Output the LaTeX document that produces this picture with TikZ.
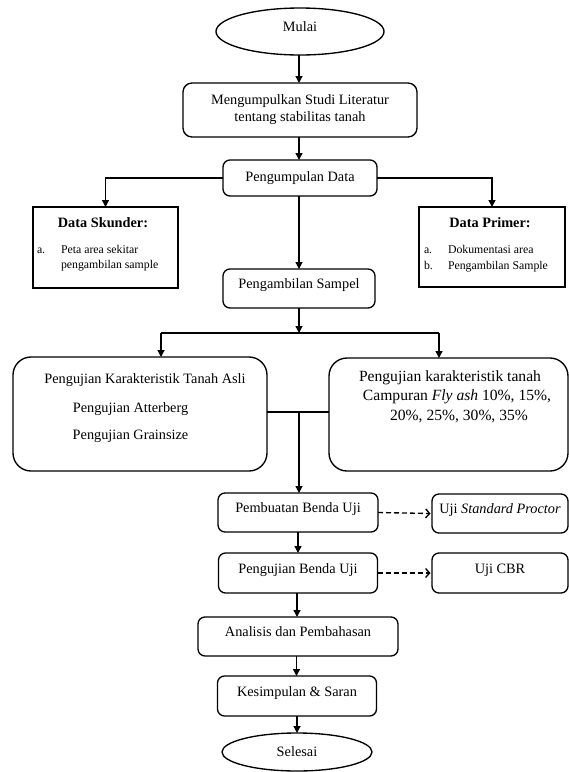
\documentclass[tikz,border=0pt]{standalone}
\usepackage{fontspec}
\setmainfont{Liberation Serif}
\usetikzlibrary{arrows.meta,shapes.geometric}
\begin{document}
\begin{tikzpicture}[x=1pt,y=-1pt,
  every node/.style={inner sep=0pt, outer sep=0pt},
  base/.style={font=\fontsize{14.3}{17}\selectfont},
  rbox/.style={draw, line width=1.35pt, rounded corners=7pt, base, align=center},
  bigbox/.style={draw, line width=1.35pt, rounded corners=18pt},
  sbox/.style={draw, line width=1.35pt},
  oval/.style={draw, ellipse, line width=1.35pt, base},
  up/.style={text height=0.7em, text depth=0.7em},
  arr/.style={line width=1.35pt, -{Triangle[length=7pt,width=7pt]}},
  ln/.style={line width=1.35pt},
  darr/.style={line width=1.35pt, dash pattern=on 5pt off 3pt, -{Straight Barb[length=4pt,width=9pt]}},
  small/.style={font=\fontsize{11.8}{15}\selectfont, anchor=base west},
  ttl/.style={font=\fontsize{14.3}{17}\selectfont\bfseries},
  txt/.style={base, text height=0.7em, text depth=0.22em},
  txtb/.style={font=\fontsize{15.6}{19.5}\selectfont, text height=0.7em, text depth=0.22em},
]
\useasboundingbox (0,0) rectangle (569,772);

% main column
\node[oval, up, minimum width=168pt, minimum height=47pt] (mulai) at (300,31.5) {Mulai};
\node[rbox, rounded corners=9pt, minimum width=234pt, minimum height=54pt] (studi) at (300,110)
  {Mengumpulkan Studi Literatur\\tentang stabilitas tanah};
\node[rbox, minimum width=154pt, minimum height=36pt] (kumpul) at (300,178) {Pengumpulan Data};
\node[rbox, up, minimum width=152pt, minimum height=39pt] (sampel) at (299,288.5) {Pengambilan Sampel};

% data boxes
\node[sbox, minimum width=145pt, minimum height=81pt] (skunder) at (105.5,247.5) {};
\node[ttl] (skt) at (103,223) {Data Skunder:};
\node[small] (ska) at (37,253) {a.};
\node[small] (sk1) at (61,253) {Peta area sekitar};
\node[small] (sk2) at (61,268) {pengambilan sample};

\node[sbox, minimum width=146pt, minimum height=80pt] (primer) at (492,247) {};
\node[ttl] (prt) at (490,223) {Data Primer:};
\node[small] (pra) at (424,253) {a.};
\node[small] (prb) at (424,269) {b.};
\node[small] (pr1) at (448,253) {Dokumentasi area};
\node[small] (pr2) at (448,269) {Pengambilan Sample};

% big boxes
\node[bigbox, minimum width=254pt, minimum height=114pt] (asli) at (140,414) {};
\node[txt] (a1) at (145,381) {Pengujian Karakteristik Tanah Asli};
\node[txt] (a2) at (130.5,410) {Pengujian Atterberg};
\node[txt] (a3) at (130.5,437) {Pengujian Grainsize};

\node[bigbox, minimum width=239pt, minimum height=113pt] (campur) at (448.5,414.5) {};
\node[txtb] (c1) at (450,379) {Pengujian karakteristik tanah};
\node[txtb] (c2) at (457,398) {Campuran \textit{Fly ash} 10\%, 15\%,};
\node[txtb] (c3) at (459,418) {20\%, 25\%, 30\%, 35\%};

% lower column
\node[rbox, up, minimum width=160pt, minimum height=39pt] (buat) at (298,512.5) {Pembuatan Benda Uji};
\node[rbox, up, minimum width=136pt, minimum height=39pt] (proctor) at (500,513.5) {Uji \textit{Standard Proctor}};
\node[rbox, up, minimum width=159pt, minimum height=40pt] (uji) at (298,573) {Pengujian Benda Uji};
\node[rbox, up, minimum width=136pt, minimum height=40pt] (cbr) at (500,573) {Uji CBR};
\node[rbox, up, minimum width=200pt, minimum height=39pt] (analisis) at (298,636.5) {Analisis dan Pembahasan};
\node[rbox, up, minimum width=159pt, minimum height=40pt] (simpul) at (297,696) {Kesimpulan \& Saran};
\node[oval, minimum width=150pt, minimum height=38pt] (selesai) at (297,752) {Selesai};

% connectors
\draw[arr] (mulai.south -| 299,0) -- (studi.north -| 299,0);
\draw[arr] (studi.south -| 299,0) -- (kumpul.north -| 299,0);
\draw[arr] (kumpul.south -| 299,0) -- (sampel.north -| 299,0);
\draw[arr] (kumpul.west) -| (skunder.north);
\draw[arr] (kumpul.east) -| (primer.north);

\coordinate (br) at (299,333);
\coordinate (bl) at (161,333);
\coordinate (brr) at (439,333);
\draw[arr] (sampel.south -| br) -- (br);
\draw[ln] (bl) -- (brr);
\draw[arr] (bl) -- (bl |- asli.north);
\draw[arr] (brr) -- (brr |- campur.north);

\coordinate (jl) at (267,412);
\coordinate (jr) at (329,412);
\coordinate (jn) at (299,412);
\draw[ln] (jl) -- (jr);
\draw[arr] (jn) -- (jn |- buat.north);

\draw[darr] (buat.east) -- ([xshift=-1.5pt]proctor.west);
\draw[darr] (uji.east) -- ([xshift=-1.5pt]cbr.west);

\draw[arr] (buat.south -| 298,0) -- (uji.north -| 298,0);
\draw[arr] (uji.south -| 297,0) -- (analisis.north -| 297,0);
\draw[arr] (analisis.south -| 296.5,0) -- (simpul.north -| 296.5,0);
\draw[arr] (simpul.south -| 297,0) -- (selesai.north);
\end{tikzpicture}
\end{document}
